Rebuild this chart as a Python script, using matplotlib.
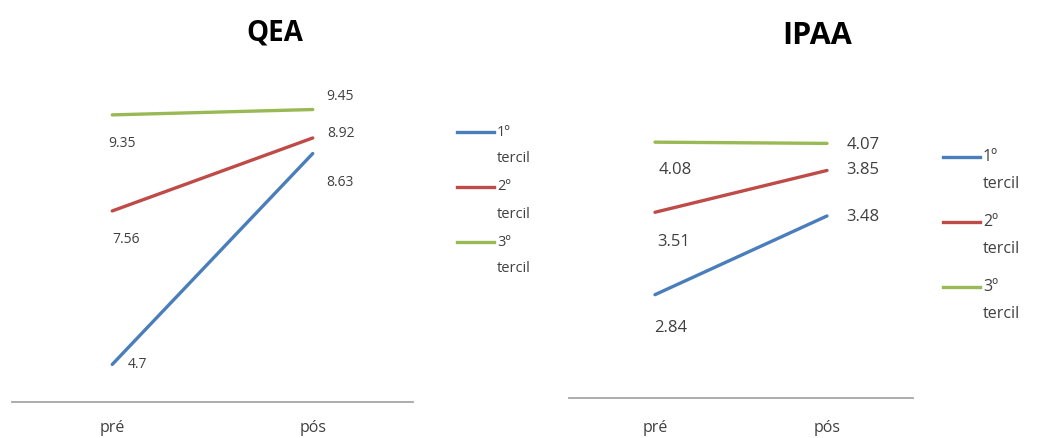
"""
Pre/post tercile comparison for QEA and IPAA
"""
import matplotlib
matplotlib.use("Agg")
from matplotlib import pyplot as plt
from matplotlib.lines import Line2D

FONT = "Open Sans"

periods = ["pré", "pós"]
terciles = ["1º\ntercil", "2º\ntercil", "3º\ntercil"]
colors = ["#4a7ebb", "#be4b48", "#98b954"]

qea_pre = [4.7, 7.56, 9.35]
qea_pos = [8.63, 8.92, 9.45]

ipaa_pre = [2.84, 3.51, 4.08]
ipaa_pos = [3.48, 3.85, 4.07]

# label offsets in pixels (dx, dy) for pre and pos points
QEA_PRE_OFF = [(25, 0), (14, -29), (10, -29)]
QEA_POS_OFF = [(27, -29), (28, 4), (27, 13)]
IPAA_PRE_OFF = [(16, -33), (19, -30), (20, -28)]
IPAA_POS_OFF = [(36, -1), (36, 0), (36, -2)]


def draw_panel(ax, pre, pos, ylim, pre_off, pos_off, fsize, pad):
    for i in range(len(pre)):
        ax.plot([0, 1], [pre[i], pos[i]], color=colors[i], linewidth=2.4,
                solid_capstyle="round")
        ax.annotate("%g" % pre[i], (0, pre[i]), xytext=pre_off[i],
                    textcoords="offset pixels", ha="center", va="center",
                    fontsize=fsize, color="#404040", family=FONT)
        ax.annotate("%g" % pos[i], (1, pos[i]), xytext=pos_off[i],
                    textcoords="offset pixels", ha="center", va="center",
                    fontsize=fsize, color="#404040", family=FONT)
    ax.set_xlim(-0.5, 1.5)
    ax.set_ylim(*ylim)
    ax.set_xticks([0, 1])
    ax.set_xticklabels(periods, family=FONT, fontsize=11.5, color="#404040")
    ax.tick_params(axis="x", length=0, pad=pad)
    ax.set_yticks([])
    for s in ["left", "right", "top"]:
        ax.spines[s].set_visible(False)
    ax.spines["bottom"].set_color("#a6a6a6")
    ax.spines["bottom"].set_linewidth(1.3)


def draw_legend(fig, x0, y0, step, fsize):
    W, H = 1040.0, 438.0
    for i in range(len(terciles)):
        y = y0 + i * step
        fig.add_artist(Line2D([x0 / W, (x0 + 37) / W], [1 - y / H, 1 - y / H],
                              color=colors[i], linewidth=2.4))
        first, second = terciles[i].split("\n")
        fig.text((x0 + 40) / W, 1 - y / H, first, ha="left", va="center",
                 fontsize=fsize, color="#404040", family=FONT)
        fig.text((x0 + 40) / W, 1 - (y + 27) / H, second, ha="left", va="center",
                 fontsize=fsize, color="#404040", family=FONT)


fig = plt.figure(figsize=(10.4, 4.38), dpi=100)

ax1 = fig.add_axes([12 / 1040, 1 - 402 / 438, 401 / 1040, 322 / 438])
draw_panel(ax1, qea_pre, qea_pos, (4, 10), QEA_PRE_OFF, QEA_POS_OFF, 10, 13)

ax2 = fig.add_axes([569 / 1040, 1 - 398 / 438, 344 / 1040, 307.5 / 438])
draw_panel(ax2, ipaa_pre, ipaa_pos, (2, 4.5), IPAA_PRE_OFF, IPAA_POS_OFF, 12, 16)

fig.text(275 / 1040, 1 - 33 / 438, "QEA", ha="center", va="center",
         fontsize=20, fontweight="bold", family=FONT)
fig.text(817 / 1040, 1 - 36 / 438, "IPAA", ha="center", va="center",
         fontsize=22, fontweight="bold", family=FONT)

draw_legend(fig, 457, 132, 55, 10.5)
draw_legend(fig, 943, 157, 65, 11.5)

fig.savefig("out.png", dpi=100)
